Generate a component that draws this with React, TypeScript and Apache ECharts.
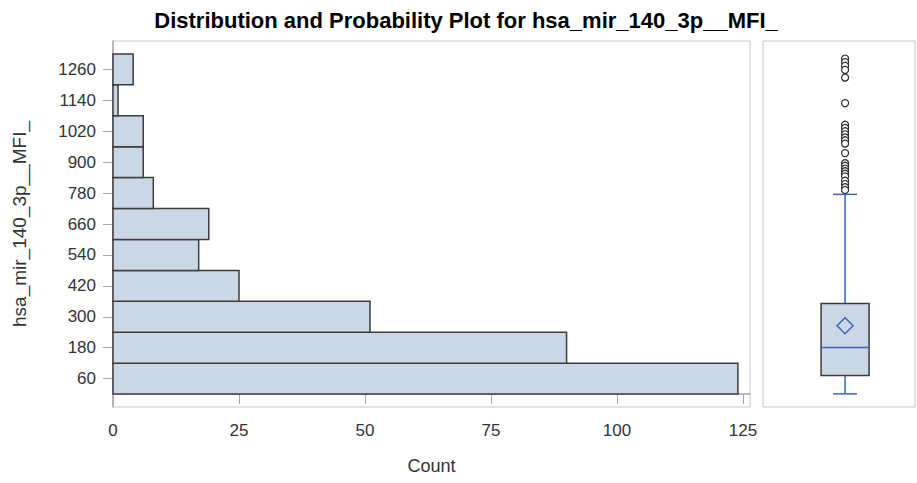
import React, { useEffect, useRef } from "react";
import * as echarts from "echarts";

const titleText = "Distribution and Probability Plot for hsa_mir_140_3p__MFI_";
const yAxisName = "hsa_mir_140_3p__MFI_";
const xAxisName = "Count";

const binWidth = 120;
const binCenters = [60, 180, 300, 420, 540, 660, 780, 900, 1020, 1140, 1260];
const counts = [124, 90, 51, 25, 17, 19, 8, 6, 6, 1, 4];
const countTicks = [0, 25, 50, 75, 100, 125];

const boxMin = 1;
const boxQ1 = 72;
const boxMedian = 181;
const boxQ3 = 352;
const boxMean = 265;
const boxWhiskerHigh = 775;
const outliers = [
  1302, 1288, 1274, 1258, 1228, 1129, 1045, 1033, 1020, 1008, 996, 985, 972, 935, 896, 886,
  875, 865, 855, 845, 828, 815, 803, 792,
];

const FONT = "'Liberation Sans', Arial, sans-serif";
const FILL = "#cbd6e6";
const EDGE = "#3c3c3c";
const BLUE = "#3d64b8";
const FRAME = "#c9c9c9";

export default function App() {
  const ref = useRef<HTMLDivElement>(null);
  useEffect(() => {
    if (!ref.current) return;
    const chart = echarts.init(ref.current, undefined, { renderer: "svg" });
    const boxX = 0.54;
    const option: any = {
      animation: false,
      backgroundColor: "#ffffff",
      textStyle: { fontFamily: FONT },
      graphic: [
        {
          type: "text",
          x: 466,
          y: 20,
          style: {
            text: titleText,
            font: `bold 22px ${FONT}`,
            fill: "#000",
            textAlign: "center",
            textVerticalAlign: "middle",
          },
        },
      ],
      grid: [
        { left: 113, top: 41, width: 637, height: 366, show: true, borderColor: FRAME, borderWidth: 1 },
        { left: 763, top: 41, width: 152, height: 366, show: true, borderColor: FRAME, borderWidth: 1 },
      ],
      xAxis: [
        {
          gridIndex: 0,
          type: "value",
          min: 0,
          max: 126.4,
          name: xAxisName,
          nameLocation: "middle",
          nameGap: 50,
          nameTextStyle: { fontSize: 18, color: "#333", fontFamily: FONT },
          axisLine: { show: true, lineStyle: { color: "#a8a8a8", width: 1.5 } },
          axisTick: { show: true, length: 10, lineStyle: { color: "#a8a8a8" }, customValues: countTicks },
          axisLabel: {
            fontSize: 17,
            color: "#333",
            margin: 15,
            customValues: countTicks,
            fontFamily: FONT,
            formatter: (v: number) => String(v),
          },
          splitLine: { show: false },
        },
        { gridIndex: 1, type: "value", min: 0, max: 1, show: false },
      ],
      yAxis: [
        {
          gridIndex: 0,
          type: "value",
          min: -50,
          max: 1370,
          name: yAxisName,
          nameLocation: "middle",
          nameGap: 84,
          nameTextStyle: { fontSize: 19, color: "#333", fontFamily: FONT },
          axisLine: { show: true, lineStyle: { color: "#a8a8a8", width: 1.5 } },
          axisTick: { show: true, length: 10, lineStyle: { color: "#a8a8a8" }, customValues: binCenters },
          axisLabel: {
            fontSize: 17,
            color: "#333",
            margin: 17,
            customValues: binCenters,
            fontFamily: FONT,
            formatter: (v: number) => String(v),
          },
          splitLine: { show: false },
        },
        { gridIndex: 1, type: "value", min: -50, max: 1370, show: false },
      ],
      series: [
        {
          type: "custom",
          xAxisIndex: 0,
          yAxisIndex: 0,
          encode: { x: 0, y: 1 },
          data: binCenters.map((b, i) => [counts[i], b]),
          renderItem: (params: any, api: any) => {
            const c = api.value(0);
            const y = api.value(1);
            const p0 = api.coord([0, y - binWidth / 2]);
            const p1 = api.coord([c, y + binWidth / 2]);
            return {
              type: "rect",
              shape: { x: p0[0], y: p1[1], width: p1[0] - p0[0], height: p0[1] - p1[1] },
              style: { fill: FILL, stroke: EDGE, lineWidth: 1.5 },
            };
          },
        },
        {
          type: "custom",
          xAxisIndex: 1,
          yAxisIndex: 1,
          encode: { x: 0, y: [1, 2, 3, 4, 5, 6] },
          data: [[boxX, boxMin, boxQ1, boxMedian, boxQ3, boxWhiskerHigh, boxMean]],
          renderItem: (params: any, api: any) => {
            const x = api.value(0);
            const pMin = api.coord([x, api.value(1)]);
            const pQ1 = api.coord([x, api.value(2)]);
            const pMed = api.coord([x, api.value(3)]);
            const pQ3 = api.coord([x, api.value(4)]);
            const pHi = api.coord([x, api.value(5)]);
            const pMean = api.coord([x, api.value(6)]);
            const cx = pMin[0];
            const hw = 24;
            const cw = 12;
            const d = 8;
            const blue = { stroke: BLUE, lineWidth: 1.5 };
            return {
              type: "group",
              children: [
                { type: "line", shape: { x1: cx, y1: pMin[1], x2: cx, y2: pQ1[1] }, style: blue },
                { type: "line", shape: { x1: cx, y1: pQ3[1], x2: cx, y2: pHi[1] }, style: blue },
                { type: "line", shape: { x1: cx - cw, y1: pMin[1], x2: cx + cw, y2: pMin[1] }, style: blue },
                { type: "line", shape: { x1: cx - cw, y1: pHi[1], x2: cx + cw, y2: pHi[1] }, style: blue },
                {
                  type: "rect",
                  shape: { x: cx - hw, y: pQ3[1], width: hw * 2, height: pQ1[1] - pQ3[1] },
                  style: { fill: FILL, stroke: EDGE, lineWidth: 1.5 },
                },
                { type: "line", shape: { x1: cx - hw, y1: pMed[1], x2: cx + hw, y2: pMed[1] }, style: blue },
                {
                  type: "polygon",
                  shape: {
                    points: [
                      [cx, pMean[1] - d],
                      [cx + d, pMean[1]],
                      [cx, pMean[1] + d],
                      [cx - d, pMean[1]],
                    ],
                  },
                  style: { fill: "none", stroke: BLUE, lineWidth: 1.5 },
                },
              ],
            };
          },
        },
        {
          type: "scatter",
          xAxisIndex: 1,
          yAxisIndex: 1,
          symbol: "circle",
          symbolSize: 7,
          itemStyle: { color: "#ffffff", borderColor: "#2a2a2a", borderWidth: 1.2, opacity: 1 },
          data: outliers.map((v) => [boxX, v]),
          z: 5,
        },
      ],
    };
    chart.setOption(option);
    return () => chart.dispose();
  }, []);
  return (
    <div
      ref={ref}
      style={{ position: "fixed", left: 0, top: 0, width: 917, height: 483 }}
    />
  );
}
